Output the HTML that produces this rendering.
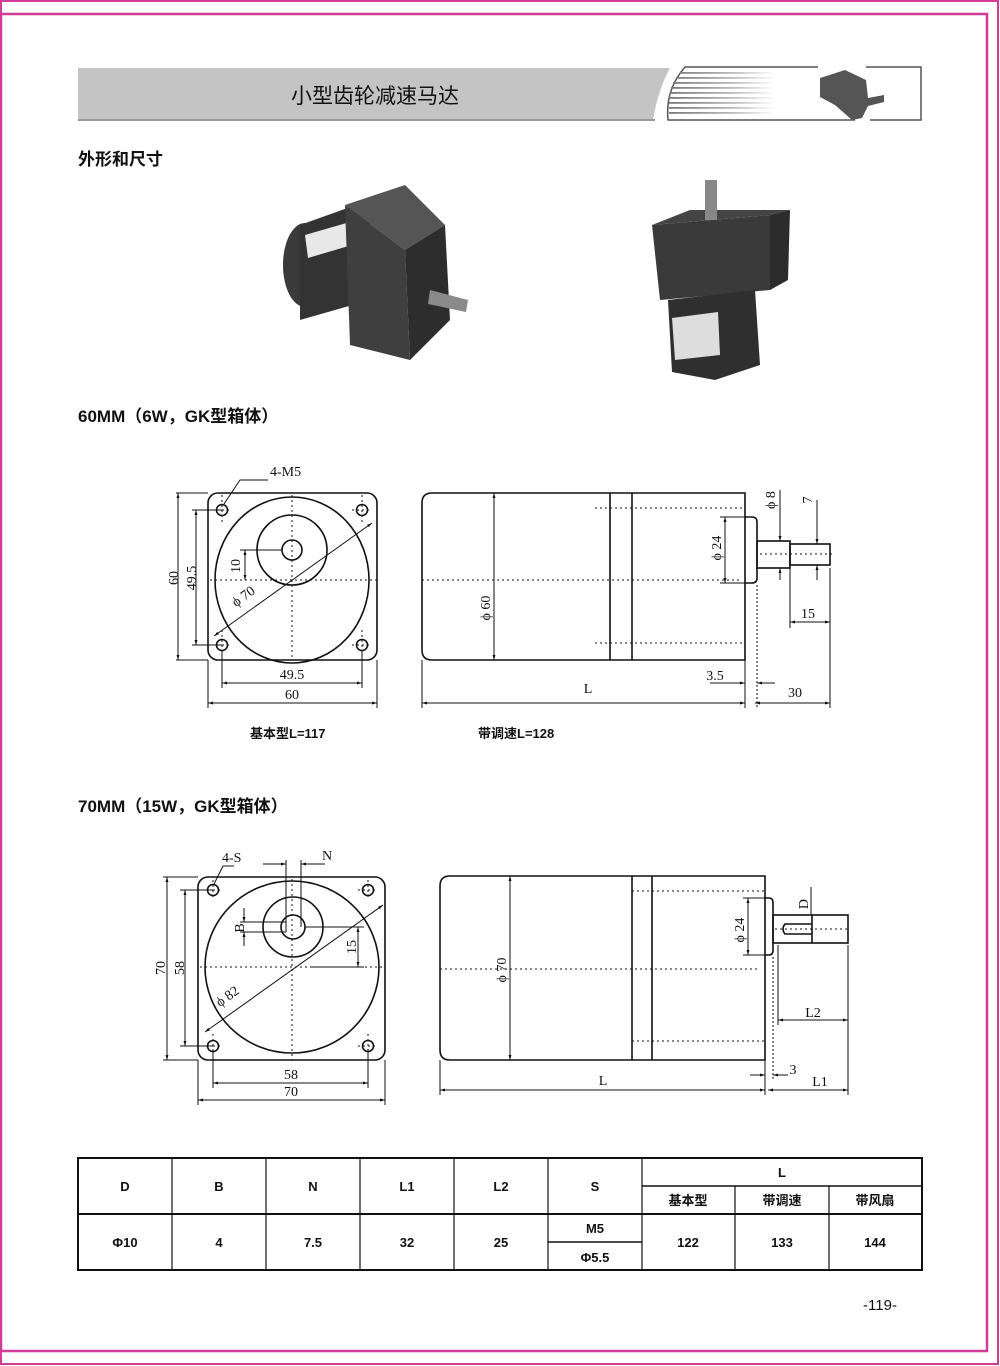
<!DOCTYPE html>
<html><head><meta charset="utf-8"><style>
html,body{margin:0;padding:0;background:#fff}
svg{display:block}
text{font-family:"Liberation Sans","Noto Sans CJK SC",sans-serif;fill:#111}
.s{font-family:"Liberation Serif","Noto Serif CJK SC",serif;font-size:14px}
</style></head><body>
<svg width="1000" height="1366" viewBox="0 0 1000 1366" xmlns="http://www.w3.org/2000/svg">
<defs>
<marker id="a" viewBox="0 0 10 10" refX="10" refY="5" markerWidth="7" markerHeight="5" orient="auto-start-reverse"><path d="M0,2 L10,5 L0,8z" fill="#111"/></marker>
<linearGradient id="st" gradientUnits="userSpaceOnUse" x1="670" y1="0" x2="775" y2="0"><stop offset="0" stop-color="#777"/><stop offset="0.6" stop-color="#bbb"/><stop offset="1" stop-color="#fff"/></linearGradient>
</defs>
<rect x="1" y="1" width="997" height="1363" fill="none" stroke="#d23c96" stroke-width="2"/>
<rect x="1" y="14" width="986" height="1337" fill="none" stroke="#d23c96" stroke-width="2.5"/>

<path d="M78,68 L670,68 Q658,90 653,120 L78,120 Z" fill="#c4c4c4"/>
<line x1="78" y1="120" x2="655" y2="120" stroke="#999" stroke-width="2"/>
<text x="375" y="103" font-size="21" text-anchor="middle">小型齿轮减速马达</text>
<path d="M818,67 L685,67 Q665,90 668,120 L855,120" fill="none" stroke="#555" stroke-width="1.5"/>
<path d="M866,67 L921,67 L921,120 L870,120" fill="none" stroke="#555" stroke-width="1.5"/>
<g fill="url(#st)">
<rect x="680" y="72" width="95" height="1.8"/><rect x="676" y="77" width="99" height="1.8"/><rect x="673" y="82" width="102" height="1.8"/><rect x="671" y="87" width="104" height="1.8"/><rect x="670" y="92" width="105" height="1.8"/><rect x="669" y="97" width="106" height="1.8"/><rect x="669" y="102" width="106" height="1.8"/><rect x="669" y="107" width="106" height="1.8"/><rect x="669" y="112" width="106" height="1.8"/>
</g>
<g fill="#555"><path d="M820,78 L845,70 L866,80 L868,98 L884,95 L884,102 L868,106 L862,118 L852,120 L835,105 L820,97 Z"/></g>

<text x="78" y="165" font-size="17" font-weight="bold">外形和尺寸</text>

<g>
<ellipse cx="305" cy="265" rx="22" ry="42" fill="#3a3a3a"/>
<path d="M300,225 L370,200 L370,300 L300,320 Z" fill="#333"/>
<path d="M305,235 L350,222 L352,245 L308,258 Z" fill="#e8e8e8"/>
<path d="M345,205 L405,185 L445,225 L405,250 Z" fill="#555"/>
<path d="M345,205 L405,250 L410,360 L350,345 Z" fill="#3f3f3f"/>
<path d="M405,250 L445,225 L450,320 L410,360 Z" fill="#2d2d2d"/>
<path d="M430,290 L468,300 L466,312 L428,304 Z" fill="#8a8a8a"/>
<path d="M652,225 L770,215 L770,290 L660,300 Z" fill="#3a3a3a"/>
<path d="M652,225 L690,210 L790,210 L770,215 Z" fill="#444"/>
<path d="M770,215 L790,210 L788,280 L770,290 Z" fill="#2c2c2c"/>
<rect x="705" y="180" width="12" height="40" fill="#888"/>
<path d="M668,300 L755,290 L760,365 L715,380 L672,372 Z" fill="#2f2f2f"/>
<path d="M672,318 L718,312 L720,355 L675,360 Z" fill="#ddd"/>
</g>

<text x="78" y="422" font-size="17" font-weight="bold">60MM（6W，GK型箱体）</text>

<g fill="none" stroke="#111" stroke-width="1.6">
<rect x="208" y="493" width="169" height="167" rx="10"/>
<ellipse cx="292" cy="580" rx="77" ry="83"/>
<circle cx="292" cy="550" r="35"/>
<circle cx="292" cy="550" r="10"/>
<circle cx="222" cy="510" r="5.5"/><circle cx="362" cy="510" r="5.5"/><circle cx="222" cy="645" r="5.5"/><circle cx="362" cy="645" r="5.5"/>
</g>
<g stroke="#111" stroke-width="1" stroke-dasharray="2,3" fill="none">
<line x1="210" y1="580" x2="377" y2="580"/><line x1="292" y1="495" x2="292" y2="660"/>
<line x1="212" y1="510" x2="232" y2="510"/><line x1="352" y1="510" x2="372" y2="510"/><line x1="212" y1="645" x2="232" y2="645"/><line x1="352" y1="645" x2="372" y2="645"/>
<line x1="222" y1="495" x2="222" y2="525"/><line x1="362" y1="495" x2="362" y2="525"/><line x1="222" y1="630" x2="222" y2="660"/><line x1="362" y1="630" x2="362" y2="660"/>
</g>
<g stroke="#111" stroke-width="1" fill="none">
<line x1="176" y1="493" x2="208" y2="493"/><line x1="176" y1="660" x2="208" y2="660"/>
<line x1="192" y1="510" x2="222" y2="510"/><line x1="192" y1="645" x2="222" y2="645"/>
<line x1="240" y1="550" x2="282" y2="550"/>
<line x1="208" y1="660" x2="208" y2="708"/><line x1="377" y1="660" x2="377" y2="708"/>
<line x1="222" y1="650" x2="222" y2="688"/><line x1="362" y1="650" x2="362" y2="688"/>
<polyline points="224,504 240,480 268,480"/>
<line x1="178" y1="493" x2="178" y2="660" marker-start="url(#a)" marker-end="url(#a)"/>
<line x1="196" y1="510" x2="196" y2="645" marker-start="url(#a)" marker-end="url(#a)"/>
<line x1="245" y1="550" x2="245" y2="580" marker-start="url(#a)" marker-end="url(#a)"/>
<line x1="214" y1="636" x2="372" y2="523" marker-start="url(#a)" marker-end="url(#a)"/>
<line x1="222" y1="683" x2="362" y2="683" marker-start="url(#a)" marker-end="url(#a)"/>
<line x1="208" y1="703" x2="377" y2="703" marker-start="url(#a)" marker-end="url(#a)"/>
</g>
<text class="s" x="270" y="476">4-M5</text>
<text class="s" transform="translate(178,578) rotate(-90)" text-anchor="middle">60</text>
<text class="s" transform="translate(196,578) rotate(-90)" text-anchor="middle">49.5</text>
<text class="s" transform="translate(240,566) rotate(-90)" text-anchor="middle">10</text>
<text class="s" transform="translate(246,600) rotate(-36)" text-anchor="middle">ϕ 70</text>
<text class="s" x="292" y="679" text-anchor="middle">49.5</text>
<text class="s" x="292" y="699" text-anchor="middle">60</text>

<g fill="none" stroke="#111" stroke-width="1.6">
<path d="M432,493 L745,493 L745,660 L432,660 Q422,660 422,650 L422,503 Q422,493 432,493 Z"/>
<line x1="610" y1="493" x2="610" y2="660"/><line x1="632" y1="493" x2="632" y2="660"/>
<path d="M745,517 L752,517 Q757,517 757,522 L757,578 Q757,583 752,583 L745,583"/>
<rect x="757" y="541" width="33" height="27"/>
<rect x="790" y="544" width="40" height="21"/>
</g>
<g stroke="#111" stroke-width="1" stroke-dasharray="2,3" fill="none">
<line x1="595" y1="508" x2="745" y2="508"/><line x1="595" y1="643" x2="745" y2="643"/>
<line x1="422" y1="580" x2="740" y2="580"/><line x1="760" y1="554" x2="832" y2="554"/>
</g>
<g stroke="#111" stroke-width="1" fill="none">
<line x1="494" y1="493" x2="494" y2="660" marker-start="url(#a)" marker-end="url(#a)"/>
<line x1="720" y1="517" x2="745" y2="517"/><line x1="720" y1="583" x2="745" y2="583"/>
<line x1="725" y1="517" x2="725" y2="583" marker-start="url(#a)" marker-end="url(#a)"/>
<line x1="780" y1="490" x2="780" y2="541" marker-end="url(#a)"/><line x1="780" y1="580" x2="780" y2="568" marker-end="url(#a)"/>
<line x1="817" y1="500" x2="817" y2="544" marker-end="url(#a)"/><line x1="817" y1="580" x2="817" y2="565" marker-end="url(#a)"/>
<line x1="790" y1="568" x2="790" y2="628"/><line x1="830" y1="568" x2="830" y2="708"/>
<line x1="790" y1="622" x2="830" y2="622" marker-start="url(#a)" marker-end="url(#a)"/>
<line x1="422" y1="660" x2="422" y2="708"/><line x1="745" y1="660" x2="745" y2="708"/><line x1="757" y1="585" x2="757" y2="708" stroke-dasharray="2,2"/>
<line x1="422" y1="703" x2="745" y2="703" marker-start="url(#a)" marker-end="url(#a)"/>
<line x1="755" y1="703" x2="830" y2="703" marker-start="url(#a)" marker-end="url(#a)"/>
<line x1="710" y1="683" x2="745" y2="683" marker-end="url(#a)"/><line x1="775" y1="683" x2="757" y2="683" marker-end="url(#a)"/>
</g>
<text class="s" transform="translate(490,608) rotate(-90)" text-anchor="middle">ϕ 60</text>
<text class="s" transform="translate(721,548) rotate(-90)" text-anchor="middle">ϕ 24</text>
<text class="s" transform="translate(775,500) rotate(-90)" text-anchor="middle">ϕ 8</text>
<text class="s" transform="translate(812,500) rotate(-90)" text-anchor="middle">7</text>
<text class="s" x="808" y="618" text-anchor="middle">15</text>
<text class="s" x="588" y="693" text-anchor="middle">L</text>
<text class="s" x="715" y="680" text-anchor="middle">3.5</text>
<text class="s" x="795" y="697" text-anchor="middle">30</text>
<text x="250" y="738" font-size="13" font-weight="bold">基本型L=117</text>
<text x="478" y="738" font-size="13" font-weight="bold">带调速L=128</text>

<text x="78" y="812" font-size="17" font-weight="bold">70MM（15W，GK型箱体）</text>

<g fill="none" stroke="#111" stroke-width="1.6">
<rect x="198" y="877" width="187" height="183" rx="10"/>
<ellipse cx="292" cy="967" rx="87" ry="86"/>
<circle cx="293" cy="927" r="30"/>
<circle cx="293" cy="927" r="12"/>
<circle cx="213" cy="890" r="5.5"/><circle cx="368" cy="890" r="5.5"/><circle cx="213" cy="1046" r="5.5"/><circle cx="368" cy="1046" r="5.5"/>
</g>
<g stroke="#111" stroke-width="1" stroke-dasharray="2,3" fill="none">
<line x1="200" y1="967" x2="385" y2="967"/><line x1="292" y1="879" x2="292" y2="1060"/>
<line x1="203" y1="890" x2="223" y2="890"/><line x1="358" y1="890" x2="378" y2="890"/><line x1="203" y1="1046" x2="223" y2="1046"/><line x1="358" y1="1046" x2="378" y2="1046"/>
<line x1="213" y1="880" x2="213" y2="900"/><line x1="368" y1="880" x2="368" y2="900"/><line x1="213" y1="1034" x2="213" y2="1058"/><line x1="368" y1="1034" x2="368" y2="1058"/>
</g>
<g stroke="#111" stroke-width="1" fill="none">
<line x1="286" y1="860" x2="286" y2="932"/><line x1="301" y1="860" x2="301" y2="927"/>
<line x1="263" y1="864" x2="286" y2="864" marker-end="url(#a)"/><line x1="325" y1="864" x2="301" y2="864" marker-end="url(#a)"/>
<line x1="240" y1="922" x2="286" y2="922"/><line x1="240" y1="932" x2="286" y2="932"/>
<line x1="244" y1="908" x2="244" y2="922" marker-end="url(#a)"/><line x1="244" y1="946" x2="244" y2="932" marker-end="url(#a)"/>
<line x1="305" y1="927" x2="364" y2="927"/><line x1="310" y1="967" x2="364" y2="967"/>
<line x1="358" y1="927" x2="358" y2="967" marker-start="url(#a)" marker-end="url(#a)"/>
<polyline points="214,884 223,866 234,866"/>
<line x1="163" y1="877" x2="198" y2="877"/><line x1="163" y1="1060" x2="198" y2="1060"/>
<line x1="180" y1="890" x2="213" y2="890"/><line x1="180" y1="1046" x2="213" y2="1046"/>
<line x1="167" y1="877" x2="167" y2="1060" marker-start="url(#a)" marker-end="url(#a)"/>
<line x1="185" y1="890" x2="185" y2="1046" marker-start="url(#a)" marker-end="url(#a)"/>
<line x1="205" y1="1032" x2="383" y2="905" marker-start="url(#a)" marker-end="url(#a)"/>
<line x1="198" y1="1060" x2="198" y2="1105"/><line x1="385" y1="1060" x2="385" y2="1105"/>
<line x1="213" y1="1052" x2="213" y2="1088"/><line x1="368" y1="1052" x2="368" y2="1088"/>
<line x1="213" y1="1083" x2="368" y2="1083" marker-start="url(#a)" marker-end="url(#a)"/>
<line x1="198" y1="1100" x2="385" y2="1100" marker-start="url(#a)" marker-end="url(#a)"/>
</g>
<text class="s" x="222" y="862">4-S</text>
<text class="s" x="322" y="860">N</text>
<text class="s" transform="translate(244,928) rotate(-90)" text-anchor="middle">B</text>
<text class="s" transform="translate(356,947) rotate(-90)" text-anchor="middle">15</text>
<text class="s" transform="translate(165,968) rotate(-90)" text-anchor="middle">70</text>
<text class="s" transform="translate(184,968) rotate(-90)" text-anchor="middle">58</text>
<text class="s" transform="translate(230,1000) rotate(-36)" text-anchor="middle">ϕ 82</text>
<text class="s" x="291" y="1079" text-anchor="middle">58</text>
<text class="s" x="291" y="1096" text-anchor="middle">70</text>

<g fill="none" stroke="#111" stroke-width="1.6">
<path d="M450,876 L765,876 L765,1060 L450,1060 Q440,1060 440,1050 L440,886 Q440,876 450,876 Z"/>
<line x1="632" y1="876" x2="632" y2="1060"/><line x1="652" y1="876" x2="652" y2="1060"/>
<path d="M765,898 L769,898 Q773,898 773,903 L773,950 Q773,955 769,955 L765,955"/>
<rect x="773" y="915" width="75" height="28"/>
<path d="M812,924 L785,924 Q781,929 785,934 L812,934"/>
<line x1="812" y1="915" x2="812" y2="943"/>
</g>
<g stroke="#111" stroke-width="1" stroke-dasharray="2,3" fill="none">
<line x1="632" y1="891" x2="765" y2="891"/><line x1="632" y1="1041" x2="765" y2="1041"/>
<line x1="440" y1="969" x2="760" y2="969"/><line x1="775" y1="929" x2="850" y2="929"/>
</g>
<g stroke="#111" stroke-width="1" fill="none">
<line x1="510" y1="876" x2="510" y2="1060" marker-start="url(#a)" marker-end="url(#a)"/>
<line x1="743" y1="898" x2="765" y2="898"/><line x1="743" y1="955" x2="765" y2="955"/>
<line x1="748" y1="898" x2="748" y2="955" marker-start="url(#a)" marker-end="url(#a)"/>
<line x1="811" y1="887" x2="811" y2="915"/>
<line x1="778" y1="945" x2="778" y2="1025"/><line x1="848" y1="945" x2="848" y2="1095"/>
<line x1="778" y1="1020" x2="848" y2="1020" marker-start="url(#a)" marker-end="url(#a)"/>
<line x1="440" y1="1060" x2="440" y2="1095"/><line x1="765" y1="1060" x2="765" y2="1095"/><line x1="773" y1="957" x2="773" y2="1080" stroke-dasharray="2,2"/>
<line x1="440" y1="1090" x2="765" y2="1090" marker-start="url(#a)" marker-end="url(#a)"/>
<line x1="768" y1="1090" x2="848" y2="1090" marker-start="url(#a)" marker-end="url(#a)"/>
<line x1="750" y1="1075" x2="765" y2="1075" marker-end="url(#a)"/><line x1="788" y1="1075" x2="773" y2="1075" marker-end="url(#a)"/>
</g>
<text class="s" transform="translate(506,970) rotate(-90)" text-anchor="middle">ϕ 70</text>
<text class="s" transform="translate(744,930) rotate(-90)" text-anchor="middle">ϕ 24</text>
<text class="s" transform="translate(808,904) rotate(-90)" text-anchor="middle">D</text>
<text class="s" x="813" y="1017" text-anchor="middle">L2</text>
<text class="s" x="603" y="1085" text-anchor="middle">L</text>
<text class="s" x="793" y="1074" text-anchor="middle">3</text>
<text class="s" x="820" y="1086" text-anchor="middle">L1</text>

<g stroke="#111" fill="none">
<rect x="78" y="1158" width="844" height="112" stroke-width="2"/>
<line x1="78" y1="1214" x2="922" y2="1214" stroke-width="2"/>
<line x1="642" y1="1186" x2="922" y2="1186" stroke-width="1.5"/>
<line x1="548" y1="1242" x2="642" y2="1242" stroke-width="1.5"/>
<g stroke-width="1.2">
<line x1="172" y1="1158" x2="172" y2="1270"/><line x1="266" y1="1158" x2="266" y2="1270"/><line x1="360" y1="1158" x2="360" y2="1270"/><line x1="454" y1="1158" x2="454" y2="1270"/><line x1="548" y1="1158" x2="548" y2="1270"/><line x1="642" y1="1158" x2="642" y2="1270"/>
<line x1="735" y1="1186" x2="735" y2="1270"/><line x1="829" y1="1186" x2="829" y2="1270"/>
</g>
</g>
<g font-size="13" font-weight="bold" text-anchor="middle">
<text x="125" y="1191">D</text><text x="219" y="1191">B</text><text x="313" y="1191">N</text><text x="407" y="1191">L1</text><text x="501" y="1191">L2</text><text x="595" y="1191">S</text>
<text x="782" y="1177">L</text>
<text x="688" y="1205">基本型</text><text x="782" y="1205">带调速</text><text x="875" y="1205">带风扇</text>
<text x="125" y="1247">Φ10</text><text x="219" y="1247">4</text><text x="313" y="1247">7.5</text><text x="407" y="1247">32</text><text x="501" y="1247">25</text>
<text x="595" y="1233">M5</text><text x="595" y="1262">Φ5.5</text>
<text x="688" y="1247">122</text><text x="782" y="1247">133</text><text x="875" y="1247">144</text>
</g>
<text x="880" y="1310" font-size="15" text-anchor="middle">-119-</text>
</svg>
</body></html>
